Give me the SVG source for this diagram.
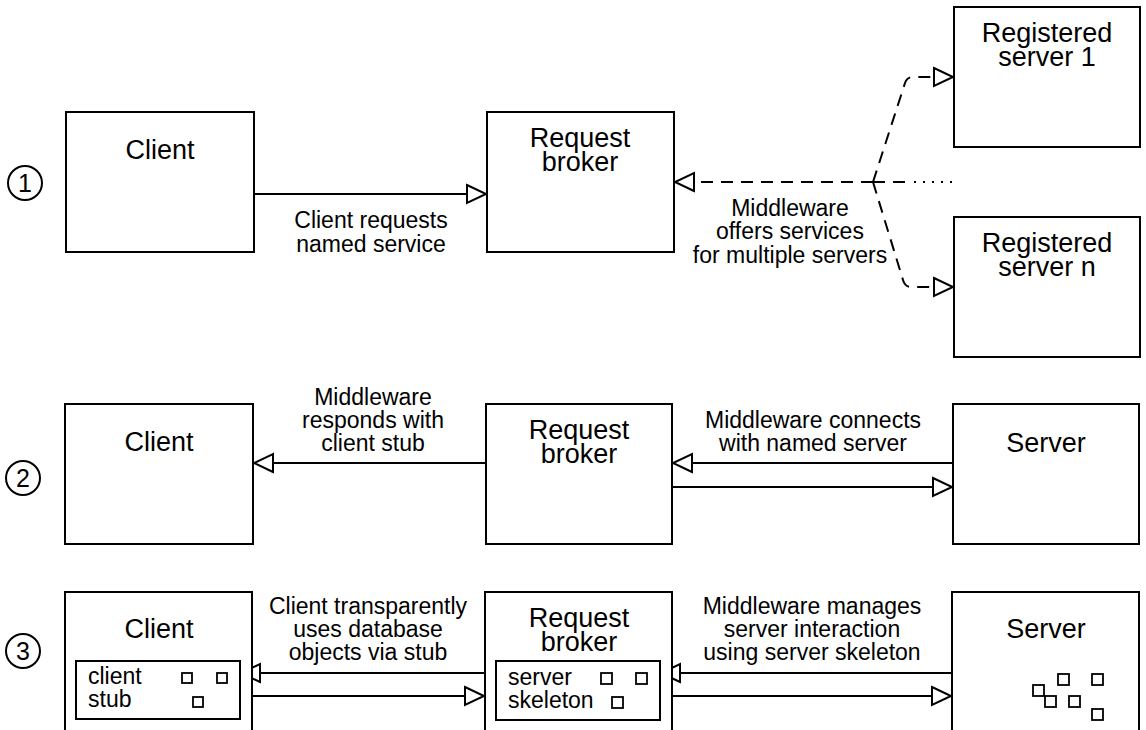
<svg xmlns="http://www.w3.org/2000/svg" width="1146" height="730" viewBox="0 0 1146 730">
<style>
.box{fill:#fff;stroke:#000;stroke-width:2}
.sq{fill:#fff;stroke:#000;stroke-width:1.8}
.ttl{font-family:"Liberation Sans",Arial,sans-serif;font-size:27px;fill:#000;text-anchor:middle}
.lbl{font-family:"Liberation Sans",Arial,sans-serif;font-size:23px;fill:#000;text-anchor:middle}
.in{font-family:"Liberation Sans",Arial,sans-serif;font-size:23px;fill:#000}
.num{font-family:"Liberation Sans",Arial,sans-serif;font-size:25px;fill:#000;text-anchor:middle}
.ln{fill:none;stroke:#000;stroke-width:2;marker-end:url(#tri)}
.dash{fill:none;stroke:#000;stroke-width:2;stroke-dasharray:12 8}
.dot{fill:none;stroke:#000;stroke-width:2;stroke-dasharray:2 7}
</style>
<defs>
<marker id="tri" markerUnits="userSpaceOnUse" markerWidth="26" markerHeight="26" viewBox="-3 -3 26 26" refX="20" refY="9" orient="auto">
<path d="M0,0 L19,9 L0,18 Z" fill="#fff" stroke="#000" stroke-width="2" stroke-dasharray="none"/>
</marker>
</defs>
<rect width="1146" height="730" fill="#fff"/>

<g id="step-numbers">
<circle cx="25" cy="183" r="17" fill="none" stroke="#000" stroke-width="2"/>
<text class="num" x="25" y="192">1</text>
<circle cx="23" cy="478" r="17" fill="none" stroke="#000" stroke-width="2"/>
<text class="num" x="23" y="487">2</text>
<circle cx="23" cy="651" r="17" fill="none" stroke="#000" stroke-width="2"/>
<text class="num" x="23" y="660">3</text>
</g>

<g id="connectors">
<!-- row 1 -->
<path class="ln" d="M254,194 L487,194"/>
<path class="dash" d="M873,182 L674,182" style="marker-end:url(#tri)"/>
<path class="dash" d="M873,182 L908,182"/>
<path class="dot" d="M914,182 L952,182"/>
<path class="dash" d="M873,182 L905,83 Q907,77 913,77 L954,77" style="marker-end:url(#tri)"/>
<path class="dash" d="M873,182 L903,280 Q905,287 911,287 L954,287" style="marker-end:url(#tri)"/>
<!-- row 2 -->
<path class="ln" d="M486,463 L253,463"/>
<path class="ln" d="M953,463 L672,463"/>
<path class="ln" d="M672,487 L953,487"/>
<!-- row 3 -->
<path class="ln" d="M485,673 L240,673"/>
<path class="ln" d="M240,696 L485,696"/>
<path class="ln" d="M952,673 L660,673"/>
<path class="ln" d="M660,696 L952,696"/>
</g>

<g id="labels">
<text class="lbl" x="371" y="228">Client requests</text>
<text class="lbl" x="371" y="252">named service</text>
<text class="lbl" x="790" y="216">Middleware</text>
<text class="lbl" x="790" y="239">offers services</text>
<text class="lbl" x="790" y="263">for multiple servers</text>
<text class="lbl" x="373" y="405">Middleware</text>
<text class="lbl" x="373" y="428">responds with</text>
<text class="lbl" x="373" y="451">client stub</text>
<text class="lbl" x="813" y="428">Middleware connects</text>
<text class="lbl" x="813" y="451">with named server</text>
<text class="lbl" x="368" y="614">Client transparently</text>
<text class="lbl" x="368" y="637">uses database</text>
<text class="lbl" x="368" y="660">objects via stub</text>
<text class="lbl" x="812" y="614">Middleware manages</text>
<text class="lbl" x="812" y="637">server interaction</text>
<text class="lbl" x="812" y="660">using server skeleton</text>
</g>

<g id="client-1">
<rect class="box" x="66" y="112" width="188" height="140"/>
<text class="ttl" x="160" y="159">Client</text>
</g>
<g id="broker-1">
<rect class="box" x="487" y="112" width="187" height="140"/>
<text class="ttl" x="580" y="147">Request</text>
<text class="ttl" x="580" y="171">broker</text>
</g>
<g id="registered-server-1">
<rect class="box" x="954" y="7" width="186" height="140"/>
<text class="ttl" x="1047" y="42">Registered</text>
<text class="ttl" x="1047" y="66">server 1</text>
</g>
<g id="registered-server-n">
<rect class="box" x="954" y="217" width="186" height="140"/>
<text class="ttl" x="1047" y="252">Registered</text>
<text class="ttl" x="1047" y="276">server n</text>
</g>

<g id="client-2">
<rect class="box" x="65" y="404" width="188" height="140"/>
<text class="ttl" x="159" y="451">Client</text>
</g>
<g id="broker-2">
<rect class="box" x="486" y="404" width="186" height="140"/>
<text class="ttl" x="579" y="439">Request</text>
<text class="ttl" x="579" y="463">broker</text>
</g>
<g id="server-2">
<rect class="box" x="953" y="404" width="186" height="140"/>
<text class="ttl" x="1046" y="452">Server</text>
</g>

<g id="client-3">
<path class="box" d="M65,740 L65,592 L252,592 L252,740"/>
<text class="ttl" x="159" y="638">Client</text>
</g>
<g id="client-stub">
<rect class="box" x="76" y="661" width="164" height="58"/>
<text class="in" x="88" y="684">client</text>
<text class="in" x="88" y="707">stub</text>
<rect class="sq" x="182" y="673" width="10" height="10"/>
<rect class="sq" x="217" y="673" width="10" height="10"/>
<rect class="sq" x="193" y="697" width="10" height="10"/>
</g>
<g id="broker-3">
<path class="box" d="M485,740 L485,592 L672,592 L672,740"/>
<text class="ttl" x="579" y="627">Request</text>
<text class="ttl" x="579" y="651">broker</text>
</g>
<g id="server-skeleton">
<rect class="box" x="496" y="661" width="164" height="59"/>
<text class="in" x="508" y="685">server</text>
<text class="in" x="508" y="708">skeleton</text>
<rect class="sq" x="601" y="673" width="11" height="11"/>
<rect class="sq" x="636" y="673" width="11" height="11"/>
<rect class="sq" x="612" y="697" width="11" height="11"/>
</g>
<g id="server-3">
<path class="box" d="M952,740 L952,592 L1139,592 L1139,740"/>
<text class="ttl" x="1046" y="638">Server</text>
<rect class="sq" x="1033" y="685" width="11" height="11"/>
<rect class="sq" x="1045" y="696" width="11" height="11"/>
<rect class="sq" x="1058" y="674" width="11" height="11"/>
<rect class="sq" x="1069" y="696" width="11" height="11"/>
<rect class="sq" x="1092" y="674" width="11" height="11"/>
<rect class="sq" x="1092" y="709" width="11" height="11"/>
</g>
</svg>
